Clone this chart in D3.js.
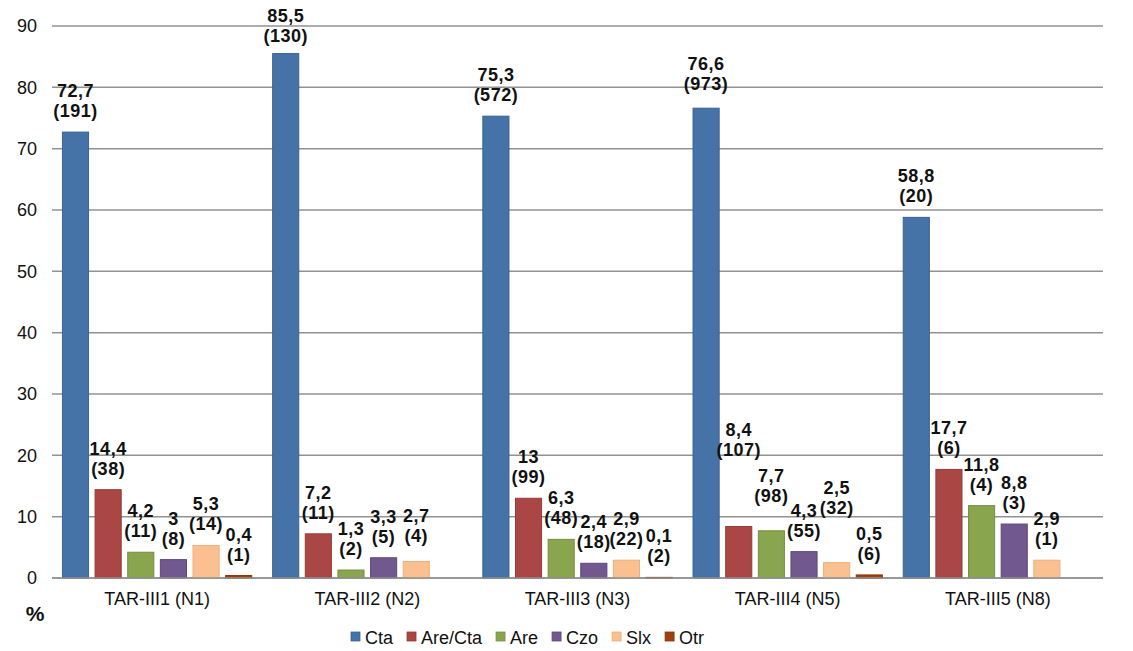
<!DOCTYPE html>
<html>
<head>
<meta charset="utf-8">
<script src="https://cdn.jsdelivr.net/npm/d3@7"></script>
<style>
  html, body { margin: 0; padding: 0; background: #fff; }
  svg { display: block; }
  text { font-family: Arial, "Liberation Sans", sans-serif; }
</style>
</head>
<body>
<svg id="chart" width="1133" height="651"></svg>
<script>
// ---- data ----
const categories = ["TAR-III1 (N1)", "TAR-III2 (N2)", "TAR-III3 (N3)", "TAR-III4 (N5)", "TAR-III5 (N8)"];
const seriesNames = ["Cta", "Are/Cta", "Are", "Czo", "Slx", "Otr"];
// percentages per series (one value per category; null = no bar)
const ctaPct    = [72.7, 85.5, 75.3, 76.6, 58.8];
const areCtaPct = [14.4, 7.2, 13, 8.4, 17.7];
const arePct    = [4.2, 1.3, 6.3, 7.7, 11.8];
const czoPct    = [3, 3.3, 2.4, 4.3, 8.8];
const slxPct    = [5.3, 2.7, 2.9, 2.5, 2.9];
const otrPct    = [0.4, null, 0.1, 0.5, null];
// counts per series
const ctaN    = [191, 130, 572, 973, 20];
const areCtaN = [38, 11, 99, 107, 6];
const areN    = [11, 2, 48, 98, 4];
const czoN    = [8, 5, 18, 55, 3];
const slxN    = [14, 4, 22, 32, 1];
const otrN    = [1, null, 2, 6, null];
const yTicks = [0, 10, 20, 30, 40, 50, 60, 70, 80, 90];
const yLabel = "%";

// ---- styles / layout ----
const colors = ["#4572A7", "#AA4643", "#89A54E", "#71588F", "#FAC08F", "#A0400C"];
const strokes = ["#3A6294", "#963B38", "#768F42", "#5E4979", "#F0AE78", "#863508"];
// extra upward shift (px) for manually moved labels: [categoryIndex, seriesIndex, px]
const labelLift = [[1, 0, -3], [1, 4, 4], [3, 0, 3], [3, 1, 55], [3, 2, 14], [3, 4, 34]];

const pctSeries = [ctaPct, areCtaPct, arePct, czoPct, slxPct, otrPct];
const nSeries = [ctaN, areCtaN, areN, czoN, slxN, otrN];

const svg = d3.select("#chart");
const margin = { left: 52, right: 30, top: 26, bottom: 73 };
const W = 1133, H = 651;
const plotW = W - margin.left - margin.right;
const plotH = H - margin.top - margin.bottom;

const g = svg.append("g").attr("transform", `translate(${margin.left},${margin.top})`);

const x0 = d3.scaleBand().domain(categories).range([0, plotW]).paddingInner(0).paddingOuter(0);
const x1 = d3.scaleBand().domain(seriesNames).range([0, x0.bandwidth()]).paddingInner(0.2).paddingOuter(0.32);
const y = d3.scaleLinear().domain([0, 90]).range([plotH, 0]);

// gridlines
g.append("g").selectAll("line").data(yTicks).join("line")
  .attr("x1", 0).attr("x2", plotW)
  .attr("y1", d => y(d)).attr("y2", d => y(d))
  .attr("stroke", "#929292").attr("stroke-width", 1.5);

// y axis labels
const yAxis = d3.axisLeft(y).tickValues(yTicks).tickSize(0).tickPadding(15).tickFormat(d3.format("d"));
const ya = g.append("g").call(yAxis);
ya.select(".domain").remove();
ya.selectAll("text").attr("font-size", 18).attr("fill", "#111").attr("font-family", "Arial, 'Liberation Sans', sans-serif");

// x axis labels
const xAxis = d3.axisBottom(x0).tickSize(0).tickPadding(14);
const xa = g.append("g").attr("transform", `translate(0,${plotH})`).call(xAxis);
xa.select(".domain").remove();
xa.selectAll("text").attr("font-size", 18).attr("fill", "#111").attr("font-family", "Arial, 'Liberation Sans', sans-serif");

// bars
const barData = [];
categories.forEach((c, ci) => {
  seriesNames.forEach((s, si) => {
    const v = pctSeries[si][ci];
    if (v !== null && v !== undefined) {
      barData.push({ c, ci, s, si, v, n: nSeries[si][ci] });
    }
  });
});

g.append("g").selectAll("rect").data(barData).join("rect")
  .attr("x", d => x0(d.c) + x1(d.s))
  .attr("y", d => y(d.v))
  .attr("width", x1.bandwidth())
  .attr("height", d => plotH - y(d.v))
  .attr("fill", d => colors[d.si])
  .attr("stroke", d => strokes[d.si])
  .attr("stroke-width", 1);

// baseline axis
g.append("line").attr("x1", 0).attr("x2", plotW).attr("y1", y(0)).attr("y2", y(0))
  .attr("stroke", "#929292").attr("stroke-width", 1.5);

// labels
const fmt = v => String(v).replace(".", ",");
const liftOf = d => {
  const f = labelLift.find(l => l[0] === d.ci && l[1] === d.si);
  return f ? f[2] : 0;
};
const lbl = g.append("g").selectAll("text").data(barData).join("text")
  .attr("text-anchor", "middle")
  .attr("font-size", 18).attr("font-weight", "bold").attr("fill", "#111")
  .attr("letter-spacing", 0.5)
  .attr("x", d => x0(d.c) + x1(d.s) + x1.bandwidth() / 2)
  .attr("y", d => y(d.v) - 35 - liftOf(d));
lbl.append("tspan").text(d => fmt(d.v));
lbl.append("tspan").attr("x", d => x0(d.c) + x1(d.s) + x1.bandwidth() / 2).attr("dy", 20).text(d => `(${d.n})`);

// y unit label
svg.append("text").attr("x", 35).attr("y", 621).attr("text-anchor", "middle")
  .attr("font-size", 21).attr("font-weight", "bold").attr("fill", "#111").text(yLabel);

// legend
const legend = svg.append("g").attr("transform", "translate(351,637)");
let lx = 0;
seriesNames.forEach((s, i) => {
  const it = legend.append("g").attr("transform", `translate(${lx},0)`);
  it.append("rect").attr("x", 0).attr("y", -5).attr("width", 9).attr("height", 9)
    .attr("fill", colors[i]).attr("stroke", strokes[i]).attr("stroke-width", 0.8);
  const t = it.append("text").attr("x", 14).attr("y", 6.5).attr("font-size", 18).attr("fill", "#111").text(s);
  lx += 14 + t.node().getComputedTextLength() + 14;
});
</script>
</body>
</html>
